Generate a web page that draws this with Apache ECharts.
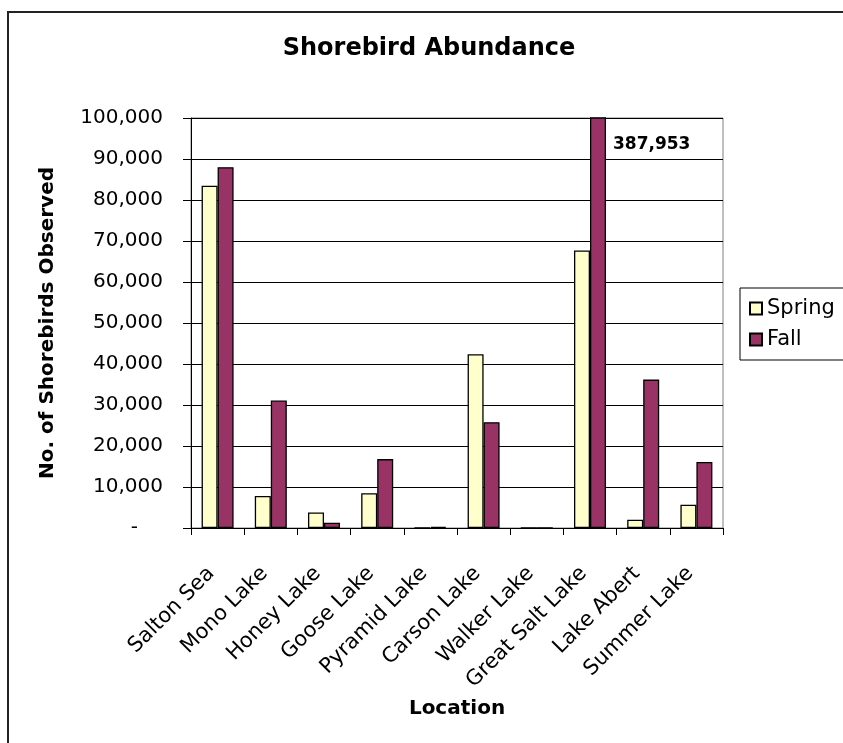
<!DOCTYPE html>
<html>
<head>
<meta charset="utf-8">
<script src="https://cdn.jsdelivr.net/npm/echarts@6/dist/echarts.min.js"></script>
<style>html,body{margin:0;padding:0;background:#fff;}#c{width:843px;height:743px;}</style>
</head>
<body>
<div id="c"></div>
<script>
const categories = ['Salton Sea','Mono Lake','Honey Lake','Goose Lake','Pyramid Lake','Carson Lake','Walker Lake','Great Salt Lake','Lake Abert','Summer Lake'];
const spring = [83500, 7800, 3800, 8500, 0, 42400, 0, 67700, 2000, 5700];
const fall = [88000, 31100, 1300, 16800, 300, 25800, 0, 387953, 36200, 16100];
const yTicks = {min: 0, max: 100000, interval: 10000};
const calloutIndex = 7;
const calloutY = 93600;

const FONT = 'DejaVu Sans';
const fmt = v => Number(v).toLocaleString('en-US');

const chart = echarts.init(document.getElementById('c'), null, {renderer: 'canvas'});
chart.setOption({
  animation: false,
  backgroundColor: '#fff',
  title: {
    text: 'Shorebird Abundance',
    left: 424, top: 32, textAlign: 'center',
    textStyle: {fontFamily: FONT, fontSize: 24, fontWeight: 'bold', color: '#000'}
  },
  graphic: [{
    type: 'rect', silent: true,
    shape: {x: 8, y: 12, width: 900, height: 800},
    style: {fill: 'none', stroke: '#222', lineWidth: 2}
  }],
  legend: {
    orient: 'vertical', left: 740, top: 288,
    padding: [10, 12, 10, 9], itemGap: 10,
    itemWidth: 12, itemHeight: 12,
    borderColor: '#000', borderWidth: 1,
    icon: 'rect',
    textStyle: {fontFamily: FONT, fontSize: 21, color: '#000'},
    data: ['Spring', 'Fall']
  },
  grid: {left: 191, right: 120, top: 118, bottom: 215, show: true, borderColor: '#808080', borderWidth: 1},
  xAxis: {
    type: 'category', data: categories,
    name: 'Location', nameLocation: 'middle', nameGap: 171,
    nameTextStyle: {fontFamily: FONT, fontSize: 20, fontWeight: 'bold', color: '#000'},
    axisLine: {lineStyle: {color: '#000', width: 1}},
    axisTick: {show: true, length: 7, inside: false, alignWithLabel: false, lineStyle: {color: '#000'}},
    axisLabel: {rotate: 45, interval: 0, margin: 36, padding: [0, 9, 0, 0],
      fontFamily: FONT, fontSize: 21, color: '#000'}
  },
  yAxis: {
    type: 'value', min: yTicks.min, max: yTicks.max, interval: yTicks.interval,
    name: 'No. of Shorebirds Observed', nameLocation: 'middle', nameGap: 133,
    nameTextStyle: {fontFamily: FONT, fontSize: 20, fontWeight: 'bold', color: '#000'},
    axisLine: {show: true, lineStyle: {color: '#000', width: 1}},
    axisTick: {show: true, length: 8, lineStyle: {color: '#000'}},
    splitLine: {show: true, lineStyle: {color: '#000', width: 1}},
    axisLabel: {
      margin: 28, fontFamily: FONT, fontSize: 20, color: '#000',
      formatter: v => v === 0 ? '{d|-}' : fmt(v),
      rich: {d: {fontFamily: FONT, fontSize: 20, color: '#000', padding: [0, 25, 0, 0]}}
    }
  },
  series: [
    {
      name: 'Spring', type: 'bar', data: spring, barWidth: 16, barGap: '0%',
      itemStyle: {color: '#FFFFCC', borderColor: '#000', borderWidth: 1.3}
    },
    {
      name: 'Fall', type: 'bar', data: fall, barWidth: 16, barGap: '0%', clip: true,
      itemStyle: {color: '#993366', borderColor: '#000', borderWidth: 1.3},
      markPoint: {
        symbol: 'rect', symbolSize: 0, silent: true,
        data: [{coord: [categories[calloutIndex], calloutY], value: fall[calloutIndex]}],
        label: {show: true, position: 'right', distance: 15,
          formatter: p => fmt(p.value),
          fontFamily: FONT, fontSize: 17, fontWeight: 'bold', color: '#000'}
      }
    }
  ]
});
</script>
</body>
</html>
